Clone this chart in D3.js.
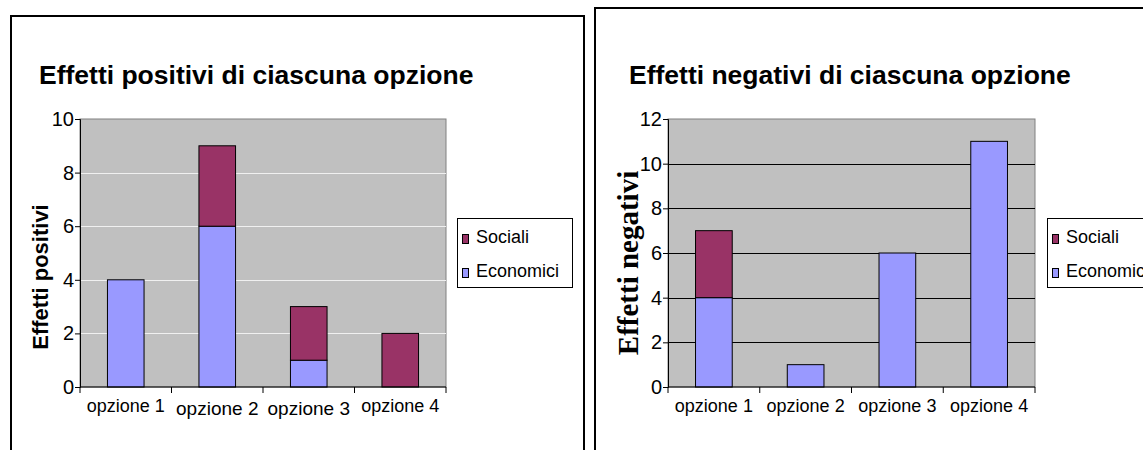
<!DOCTYPE html>
<html>
<head>
<meta charset="utf-8">
<script src="https://cdn.jsdelivr.net/npm/d3@7"></script>
<style>
  body { margin: 0; background: #fff; }
  svg { display: block; font-family: "Liberation Sans", Arial, sans-serif; }
</style>
</head>
<body>
<svg width="1143" height="450"></svg>
<script>
const categories = ['opzione 1', 'opzione 2', 'opzione 3', 'opzione 4'];
const seriesNames = ['Economici', 'Sociali'];
const posEconomici = [4, 6, 1, 0];
const posSociali = [0, 3, 2, 2];
const negEconomici = [4, 1, 6, 11];
const negSociali = [3, 0, 0, 0];
const posTicks = [0, 2, 4, 6, 8, 10];
const negTicks = [0, 2, 4, 6, 8, 10, 12];

const colors = { Economici: '#9999ff', Sociali: '#993366' };
const svg = d3.select('svg');

function drawChart(opt) {
  const g = svg.append('g');
  // outer frame of the panel
  g.append('rect')
    .attr('x', opt.frame[0]).attr('y', opt.frame[1])
    .attr('width', opt.frame[2]).attr('height', 500)
    .attr('fill', 'none').attr('stroke', '#000').attr('stroke-width', 2);

  g.append('text')
    .attr('x', opt.titleX).attr('y', 84)
    .attr('font-size', 26.5).attr('font-weight', 'bold')
    .text(opt.title);

  const p = opt.plot; // left, top, right, bottom
  const x = d3.scaleBand().domain(categories).range([p[0], p[2]]).paddingInner(0.6).paddingOuter(0.3);
  const xb = d3.scaleBand().domain(categories).range([p[0], p[2]]);
  const y = d3.scaleLinear().domain([0, d3.max(opt.ticks)]).range([p[3], p[1]]);

  g.append('rect')
    .attr('x', p[0]).attr('y', p[1])
    .attr('width', p[2] - p[0]).attr('height', p[3] - p[1])
    .attr('fill', '#c0c0c0').attr('stroke', '#808080');

  g.selectAll('.grid')
    .data(opt.ticks.filter(t => t > 0 && t < d3.max(opt.ticks)))
    .enter().append('line')
    .attr('x1', p[0]).attr('x2', p[2])
    .attr('y1', d => Math.round(y(d)) + 0.5).attr('y2', d => Math.round(y(d)) + 0.5)
    .attr('stroke', opt.gridColor).attr('stroke-width', 1.2);

  const stacked = d3.stack().keys(seriesNames)(
    categories.map((c, i) => ({ cat: c, Economici: opt.econ[i], Sociali: opt.soc[i] }))
  );
  stacked.forEach(layer => {
    g.selectAll(null)
      .data(layer.filter(d => d[1] > d[0]))
      .enter().append('rect')
      .attr('x', d => x(d.data.cat))
      .attr('y', d => y(d[1]))
      .attr('width', x.bandwidth())
      .attr('height', d => y(d[0]) - y(d[1]))
      .attr('fill', colors[layer.key])
      .attr('stroke', '#000').attr('stroke-width', 1);
  });

  // y axis
  const ya = g.append('g')
    .attr('transform', `translate(${p[0]},0)`)
    .call(d3.axisLeft(y).tickValues(opt.ticks).tickSize(5).tickPadding(1));
  ya.select('.domain').attr('stroke', '#000');
  ya.selectAll('text').attr('font-size', 20).attr('fill', '#000')
    .attr('font-family', '"Liberation Sans", Arial, sans-serif');

  // x axis, ticks at category boundaries
  const xa = g.append('g').attr('transform', `translate(0,${p[3]})`);
  xa.append('line').attr('x1', p[0]).attr('x2', p[2]).attr('stroke', '#000');
  const bounds = categories.map(c => xb(c)).concat([p[2]]);
  xa.selectAll('.tk').data(bounds).enter().append('line')
    .attr('x1', d => d).attr('x2', d => d).attr('y1', 0).attr('y2', 6)
    .attr('stroke', '#000');
  xa.selectAll('.lbl').data(categories).enter().append('text')
    .attr('x', d => xb(d) + xb.bandwidth() / 2)
    .attr('y', (d, i) => opt.stagger && (i === 1 || i === 2) ? 28 : 25)
    .attr('text-anchor', 'middle')
    .attr('font-size', (d, i) => opt.stagger && (i === 1 || i === 2) ? 19 : 18)
    .text(d => d);

  // y label
  g.append('text')
    .attr('transform', `translate(${opt.ylabel[1]},${opt.ylabel[2]}) rotate(-90)`)
    .attr('text-anchor', 'middle')
    .attr('font-size', opt.ylabel[3]).attr('font-weight', 'bold')
    .attr('font-family', opt.ylabel[4])
    .text(opt.ylabel[0]);

  // legend
  const L = opt.legend;
  g.append('rect').attr('x', L[0] + 0.5).attr('y', L[1] + 0.5)
    .attr('width', L[2]).attr('height', 69)
    .attr('fill', '#fff').attr('stroke', '#000');
  ['Sociali', 'Economici'].forEach((s, i) => {
    g.append('rect').attr('x', L[0] + 5.5).attr('y', L[1] + 16.5 + i * 34)
      .attr('width', 6).attr('height', 9)
      .attr('fill', colors[s]).attr('stroke', '#000');
    g.append('text').attr('x', L[0] + 19).attr('y', L[1] + 25 + i * 34)
      .attr('font-size', 18).text(s);
  });
}

drawChart({
  frame: [11, 16, 573], title: 'Effetti positivi di ciascuna opzione', titleX: 39,
  plot: [80, 119, 446, 387], ticks: posTicks, gridColor: '#f0f0f0',
  econ: posEconomici, soc: posSociali, stagger: true,
  ylabel: ['Effetti positivi', 48, 277, 22, '"Liberation Sans", Arial, sans-serif'],
  legend: [457, 218, 115]
});
drawChart({
  frame: [595, 8, 600], title: 'Effetti negativi di ciascuna opzione', titleX: 629,
  plot: [668, 119, 1035, 387], ticks: negTicks, gridColor: '#000',
  econ: negEconomici, soc: negSociali, stagger: false,
  ylabel: ['Effetti negativi', 638, 263, 29, '"Liberation Serif", "Times New Roman", serif'],
  legend: [1047, 218, 115]
});
</script>
</body>
</html>
